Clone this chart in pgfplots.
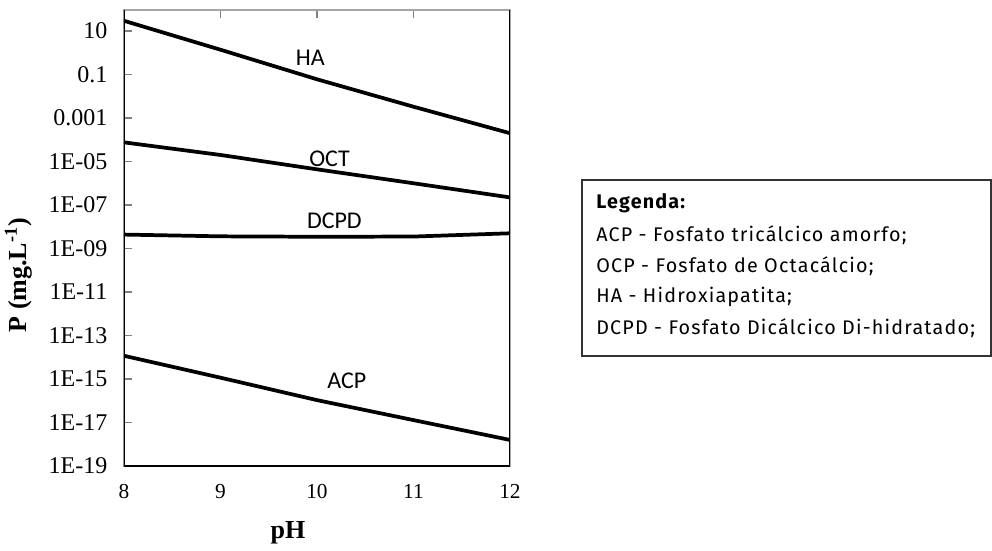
\documentclass[border=0pt]{standalone}
\usepackage{fontspec}
\setmainfont{Liberation Serif}
\newfontfamily\carlito{Carlito}
\newfontfamily\fira[LetterSpace=6]{Fira Sans}
\usepackage{pgfplots}
\pgfplotsset{compat=1.18}

\begin{document}
\begin{tikzpicture}
% overall canvas: 992 x 550 px at 0.75pt per px, axis box bottom-left at origin
\useasboundingbox (-93pt,-63pt) rectangle (651pt,349.5pt);
\begin{axis}[
  scale only axis, width=289.5pt, height=342pt,
  xmin=8, xmax=12, ymode=log, ymin=1e-19, ymax=92.5,
  xtick={8,9,10,11,12}, xticklabels={8,9,10,11,12},
  xtick pos=top, xticklabel pos=bottom,
  ytick={1e1,1e-1,1e-3,1e-5,1e-7,1e-9,1e-11,1e-13,1e-15,1e-17,1e-19},
  yticklabels={10,0.1,0.001,1E-05,1E-07,1E-09,1E-11,1E-13,1E-15,1E-17,1E-19},
  ytick pos=left, yminorticks=false, xminorticks=false,
  tick align=inside, major tick length=6pt,
  tick style={gray, line width=0.8pt},
  axis line style={gray!70, line width=0.9pt},
  yticklabel style={font=\fontsize{18}{20}\selectfont, xshift=-9pt},
  xticklabel style={font=\fontsize{16}{18}\selectfont, yshift=-10pt},
  curve/.style={black, line width=2.8pt, line join=round, mark=none},
]
\addplot[curve] coordinates {(8,29.5)(9,1.38)(10,0.0603)(11,0.00331)(12,2.0e-4)};
\addplot[curve] coordinates {(8,7.59e-5)(9,2.0e-5)(10,4.37e-6)(11,1.0e-6)(12,2.24e-7)};
\addplot[curve] coordinates {(8,4.37e-9)(9,3.63e-9)(10,3.47e-9)(11,3.55e-9)(12,5.01e-9)};
\addplot[curve] coordinates {(8,1.17e-14)(9,1.15e-15)(10,1.07e-16)(11,1.29e-17)(12,1.58e-18)};
\draw[black, line width=1.1pt] (rel axis cs:1,1) -- (rel axis cs:1,0) -- (rel axis cs:0,0) -- (rel axis cs:0,1);
\node[font=\carlito\fontsize{18}{20}\selectfont] at (axis cs:9.93,0.575) {HA};
\node[font=\carlito\fontsize{18}{20}\selectfont] at (axis cs:10.13,1.29e-5) {OCT};
\node[font=\carlito\fontsize{18}{20}\selectfont] at (axis cs:10.18,1.82e-8) {DCPD};
\node[font=\carlito\fontsize{18}{20}\selectfont] at (axis cs:10.31,8.1e-16) {ACP};
\end{axis}
% axis titles
\node[font=\fontsize{19.5}{21}\selectfont\bfseries] at (123pt,-50pt) {pH};
\node[font=\fontsize{19.5}{21}\selectfont\bfseries, rotate=90] at (-79pt,143pt) {P (mg.L\textsuperscript{-1})};
% legend box
\draw[gray!40!black, line width=0.8pt] (343.5pt,82.5pt) rectangle (650.25pt,214.5pt);
\begin{scope}[every node/.style={anchor=west, inner sep=0pt, font=\fira\fontsize{14.8}{16}\selectfont}]
\node at (354pt,197.25pt) {\bfseries Legenda:};
\node at (354pt,173.25pt) {ACP - Fosfato tricálcico amorfo;};
\node at (354pt,150pt) {OCP - Fosfato de Octacálcio;};
\node at (354pt,126.75pt) {HA - Hidroxiapatita;};
\node at (354pt,103.5pt) {DCPD - Fosfato Dicálcico Di-hidratado;};
\end{scope}
\end{tikzpicture}
\end{document}
